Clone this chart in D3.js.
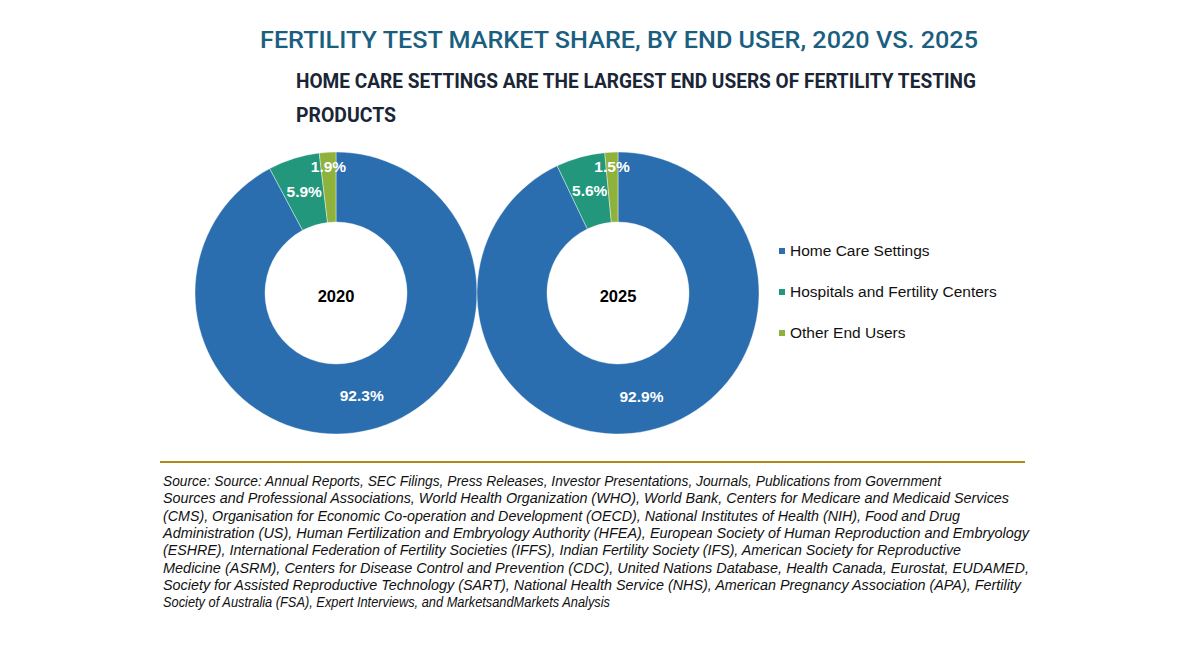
<!DOCTYPE html>
<html><head><meta charset="utf-8">
<script src="https://cdn.jsdelivr.net/npm/d3@7"></script>
<style>
html,body{margin:0;padding:0;background:#fff;}
svg{display:block;}
</style></head>
<body>
<svg id="chart" width="1200" height="650"></svg>
<script>
const categories = ["Home Care Settings", "Hospitals and Fertility Centers", "Other End Users"];
const years = ["2020", "2025"];
const values2020 = [92.3, 5.9, 1.9];
const values2025 = [92.9, 5.6, 1.5];
const colors = ["#2a6eb0", "#23977b", "#8fb23c"];
const titleText = "FERTILITY TEST MARKET SHARE, BY END USER, 2020 VS. 2025";
const subtitleLines = ["HOME CARE SETTINGS ARE THE LARGEST END USERS OF FERTILITY TESTING", "PRODUCTS"];
const sourceLines = [
 "Source: Source: Annual Reports, SEC Filings, Press Releases, Investor Presentations, Journals, Publications from Government",
 "Sources and Professional Associations, World Health Organization (WHO), World Bank, Centers for Medicare and Medicaid Services",
 "(CMS), Organisation for Economic Co-operation and Development (OECD), National Institutes of Health (NIH), Food and Drug",
 "Administration (US), Human Fertilization and Embryology Authority (HFEA), European Society of Human Reproduction and Embryology",
 "(ESHRE), International Federation of Fertility Societies (IFFS), Indian Fertility Society (IFS), American Society for Reproductive",
 "Medicine (ASRM), Centers for Disease Control and Prevention (CDC), United Nations Database, Health Canada, Eurostat, EUDAMED,",
 "Society for Assisted Reproductive Technology (SART), National Health Service (NHS), American Pregnancy Association (APA), Fertility",
 "Society of Australia (FSA), Expert Interviews, and MarketsandMarkets Analysis"
];
const sourceWidths = [778, 846, 797, 866, 798, 866, 858, 447];

const svg = d3.select("#chart");

function fitText(sel, target) {
  const w = sel.node().getComputedTextLength();
  if (Math.abs(w - target) > 2) sel.attr("textLength", target).attr("lengthAdjust", "spacingAndGlyphs");
}

// Title
const t = svg.append("text").attr("x", 260).attr("y", 48)
  .attr("font-family", "Roboto, 'Liberation Sans', sans-serif")
  .attr("font-size", 23).attr("font-weight", 500).attr("fill", "#1b5f80").text(titleText);
fitText(t, 718);

const subW = [680, 100];
subtitleLines.forEach((s, i) => {
  const st = svg.append("text").attr("x", 296).attr("y", 88 + i * 34)
    .attr("font-family", "Roboto, sans-serif")
    .attr("font-size", 21).attr("font-weight", 700).attr("fill", "#1a2636").text(s);
  fitText(st, subW[i]);
});

// Donuts
const color = d3.scaleOrdinal().domain(categories).range(colors);
const pie = d3.pie().sort(null).value(d => d.v);
const rOuter = 141, rInner = 71;
const arc = d3.arc().innerRadius(rInner).outerRadius(rOuter);
const labelArc = d3.arc().innerRadius(106).outerRadius(106);
const smallArc = d3.arc().innerRadius(127).outerRadius(127);
const centers = d3.scalePoint().domain(years).range([336, 618]);

[values2020, values2025].forEach((vals, yi) => {
  const data = vals.map((v, i) => ({cat: categories[i], v}));
  const g = svg.append("g").attr("transform", `translate(${centers(years[yi])},293)`);
  const arcs = pie(data);
  g.selectAll("path").data(arcs).join("path")
    .attr("d", arc).attr("fill", d => color(d.data.cat))
    .attr("stroke", "#ffffff").attr("stroke-width", 0.4);
  g.selectAll("text.lbl").data(arcs).join("text").attr("class", "lbl")
    .attr("transform", d => `translate(${(d.data.v < 3 ? smallArc : labelArc).centroid(d)})`)
    .attr("text-anchor", "middle").attr("dy", "0.35em")
    .attr("font-family", "'Liberation Sans', Arial, sans-serif")
    .attr("font-size", 15.5).attr("font-weight", 700).attr("fill", "#ffffff")
    .text(d => d.data.v.toFixed(1) + "%");
  g.append("text").attr("text-anchor", "middle").attr("dy", "0.35em").attr("y", 3)
    .attr("font-family", "'Liberation Sans', Arial, sans-serif")
    .attr("font-size", 16.5).attr("font-weight", 700).attr("fill", "#000").text(years[yi]);
});

// Legend
const legY = d3.scalePoint().domain(categories).range([251, 333]);
const leg = svg.append("g");
categories.forEach(c => {
  leg.append("rect").attr("x", 779).attr("y", legY(c) - 3).attr("width", 6).attr("height", 6).attr("fill", color(c));
  leg.append("text").attr("x", 790).attr("y", legY(c)).attr("dy", "0.35em")
    .attr("font-family", "'Liberation Sans', Arial, sans-serif")
    .attr("font-size", 15.5).attr("fill", "#111").text(c);
});

// Divider
svg.append("line").attr("x1", 160).attr("x2", 1025).attr("y1", 462).attr("y2", 462)
  .attr("stroke", "#b08a14").attr("stroke-width", 2.2);

// Source
sourceLines.forEach((s, i) => {
  const st = svg.append("text").attr("x", 163).attr("y", 486 + i * 17.3)
    .attr("font-family", "'Liberation Sans', Arial, sans-serif")
    .attr("font-style", "italic").attr("font-size", 14).attr("fill", "#111").text(s);
  fitText(st, sourceWidths[i]);
});
</script>
</body></html>
